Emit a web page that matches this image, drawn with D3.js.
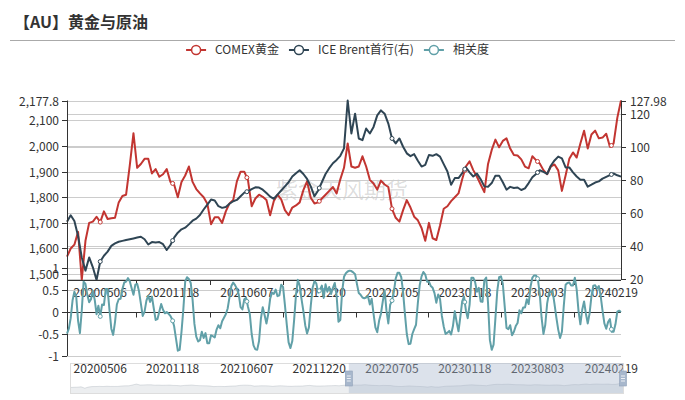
<!DOCTYPE html>
<html><head><meta charset="utf-8">
<script src="https://cdn.jsdelivr.net/npm/d3@7"></script>
<style>
body{margin:0;background:#fff}
text{font-family:"Microsoft YaHei","Noto Sans CJK SC","Noto Sans",sans-serif}
</style>
</head><body>
<svg id="c" width="685" height="400"></svg>
<script>
// ---------- data ----------
const titleText = "【AU】黄金与原油";
const watermarkText = "紫金天风期货";
const seriesNames = ["COMEX黄金", "ICE Brent首行(右)", "相关度"];
const startDate = "2020-02-06";
const stepDays = 10;      // gold & brent sampling step
const corrStepDays = 5;   // correlation sampling step

const gold = [
1568,1600,1615,1665,1477,1630,1700,1705,1724,1703,
1745,1715,1718,1720,1780,1805,1810,1925,2050,1915,
1930,1950,1950,1893,1910,1880,1890,1910,1860,1850,
1800,1860,1885,1920,1860,1832,1815,1800,1775,1695,
1722,1722,1700,1745,1776,1789,1862,1900,1900,1867,
1765,1795,1810,1802,1789,1730,1785,1810,1792,1750,
1730,1760,1768,1780,1828,1862,1798,1776,1780,1795,
1810,1825,1840,1815,1870,1915,2010,1920,1915,1920,
1960,1920,1868,1854,1830,1865,1850,1840,1755,1720,
1705,1750,1789,1760,1724,1710,1680,1630,1700,1640,
1633,1690,1755,1765,1785,1800,1815,1870,1920,1940,
1906,1880,1850,1820,1930,1985,2025,1995,2020,2030,
1990,1965,1963,1948,1920,1913,1960,1945,1932,1906,
1890,1920,1928,1905,1825,1885,1950,1975,1955,2010,
2060,1990,2045,2060,2030,2033,2048,1997,2010,2110,
2177.8];

const brent = [
54.6,58.5,55,46,33,25,33,27,19.33,30.5,
34,36.5,40,41.5,42.5,43,43.5,44,44.5,45,
45.5,44,40.8,42.3,42,42.3,41,37.5,40.5,45,
48,50,51,53,55.2,56.5,58.7,62,65,68,
67.5,64,63,63.5,65.5,67,67.8,70,72.2,73,
74.3,75.4,75.3,74,72,69.8,68.5,71,73.5,76,
78.5,82,84,85.8,83.5,80.5,76,70,73.5,78.5,
83.5,87,90,92,94.5,99,127.98,108,120,105,
104,111,108,112,119,122,120,114,105,102,
105,100,96,94.3,95.5,91.5,88,89,95,94.5,
95.5,94,89.5,85,77,81,81,84,87.5,84.5,
82,83.7,80.3,76,75.8,78,82.5,82.5,78.5,74,
75.7,75,75.3,73.8,74.8,78,81.5,83.5,85.8,84.8,
83.5,88.5,91.7,94,93,87.5,87.5,84.5,82,80,
80,75.8,77,78.3,79,80.7,81.8,82.8,83.8,82.7,
81.9];

const corr = [
-0.49,-0.38,-0.14,0.26,0.46,0.35,-0.2,-0.48,0.04,0.69,
0.64,0.39,0.22,0.29,0.48,0.28,-0.05,0.14,-0.1,0.17,
0.16,0.52,0.52,0.05,-0.38,-0.52,-0.23,0.17,0.29,0.3,
0.52,0.67,0.69,0.77,0.7,0.54,0.39,0.62,0.64,0.47,
0.19,-0.09,0.01,0.26,0.37,0.23,0.35,0.08,-0.18,-0.16,
0.01,0.18,0.05,-0.03,0,-0.04,-0.09,-0.17,-0.32,-0.6,
-0.88,-0.86,-0.45,0.06,0.69,0.79,0.75,0.66,0.28,-0.27,
-0.56,-0.67,-0.64,-0.45,-0.59,-0.48,-0.71,-0.71,-0.53,-0.55,
-0.58,-0.4,-0.3,-0.37,-0.21,-0.13,-0.05,0.08,0.34,0.59,
0.67,0.61,0.53,0.4,0.11,0.06,0.29,0.32,0.12,-0.05,
-0.5,-0.76,-0.85,-0.86,-0.66,-0.15,0.11,-0.07,-0.26,-0.04,
0.3,0.44,0.41,0.51,0.36,0.38,0.62,0.57,0.16,-0.28,
-0.69,-0.82,-0.66,-0.18,0.39,0.73,0.6,0.29,0.02,-0.3,
-0.49,-0.35,0.14,0.55,0.7,0.65,0.44,0.51,0.6,0.32,
0.63,0.46,0.57,0.41,0.55,0.66,0.37,-0.22,-0.18,0.47,
0.8,0.88,0.92,0.94,0.93,0.9,0.86,0.64,0.43,0.39,
0.33,0.31,0.33,0.36,0.17,0.3,-0.04,-0.35,-0.46,-0.2,
-0.04,0.24,0.49,0.03,-0.26,0.16,0.26,0.46,0.76,0.89,
0.89,0.79,0.45,-0.05,-0.5,-0.73,-0.72,-0.5,-0.39,-0.29,
0.21,0.61,0.81,0.91,0.85,0.69,0.69,0.59,0.55,0.43,
0.21,0.4,0.3,-0.09,-0.33,-0.5,-0.47,-0.43,-0.51,-0.32,
0.02,-0.23,-0.44,-0.11,0.24,0.35,0.04,-0.14,0.16,0.78,
0.78,0.68,0.46,0.55,0.24,0.23,0.72,0.78,0.2,-0.64,
-0.86,-0.74,-0.14,0.48,0.79,0.81,0.64,0.14,-0.36,-0.39,
-0.3,-0.53,-0.45,-0.32,-0.25,0.04,-0.03,0.1,0.1,0.29,
0.18,0.57,0.78,0.83,0.83,0.74,0.41,-0.13,-0.5,-0.29,
0.19,0.43,0.46,0.47,0.18,-0.13,-0.4,-0.59,-0.45,0.13,
0.62,0.66,0.67,0.6,0.6,0.78,0.51,0.02,-0.28,0.05,
0.24,-0.04,-0.26,-0.03,0.36,0.6,0.61,0.53,0.59,0.36,
0.03,-0.26,-0.38,-0.23,-0.16,-0.45,-0.45,-0.28,0.01,0.03,
0];

const xTickLabels = ["20200506","20201118","20210607","20211220","20220705","20230118","20230803","20240219"];
const leftTicks = [1500,1600,1700,1800,1900,2000,2100];
const rightTicks = [20,40,60,80,100,120];
const corrTicks = [-1,-0.5,0,0.5,1];
const zoomStartLabel = "20211220"; // dataZoom window start (approx.)
const colors = ["#c23531", "#2f4554", "#61a0a8"];

// ---------- layout ----------
const L = 67, R = 621, topY = 100.5, botY = 280;
const cTop = 268, cBot = 356;
const axisColor = "#333", gridColor = "#ccc", textColor = "#333";

const svg = d3.select("#c");
const parseISO = d3.utcParse("%Y-%m-%d");
const parseLbl = d3.utcParse("%Y%m%d");
const t0 = parseISO(startDate);
const dates = gold.map((_, i) => d3.utcDay.offset(t0, i * stepDays));
const corrDates = corr.map((_, i) => d3.utcDay.offset(t0, i * corrStepDays));
const lblDates = xTickLabels.map(parseLbl);

const x = d3.scaleUtc().domain([dates[0], dates[dates.length - 1]]).range([L, R]);
const yL = d3.scaleLinear().domain(d3.extent(gold)).range([botY, topY]);
const yR = d3.scaleLinear().domain(d3.extent(brent)).range([botY, topY]);
const yC = d3.scaleLinear().domain([-1, 1]).range([cBot, cTop]);

function valueAt(ds, vs, d) {
  const i = Math.max(1, Math.min(ds.length - 1, d3.bisectLeft(ds, d)));
  const a = ds[i - 1], b = ds[i];
  const t = (d - a) / (b - a);
  return vs[i - 1] + (vs[i] - vs[i - 1]) * t;
}

// ---------- title ----------
svg.append("text").attr("x", 14).attr("y", 28).attr("font-size", 16).attr("font-weight", "bold")
  .attr("fill", "#333").text(titleText);
svg.append("line").attr("x1", 10).attr("x2", 675).attr("y1", 40.5).attr("y2", 40.5)
  .attr("stroke", "#aaa").attr("stroke-width", 1);

// ---------- watermark ----------
svg.append("text").attr("x", 342).attr("y", 198).attr("text-anchor", "middle")
  .attr("font-size", 22).attr("fill", "rgba(0,0,0,0.15)").text(watermarkText);

// ---------- top grid lines ----------
const fmtL = d3.format(",");
const leftAll = [...leftTicks, d3.max(gold)];
const rightAll = [...rightTicks, d3.max(brent)];
const g = svg.append("g");
leftAll.forEach(v => g.append("line").attr("x1", L).attr("x2", R)
  .attr("y1", Math.round(yL(v)) + 0.5).attr("y2", Math.round(yL(v)) + 0.5).attr("stroke", gridColor));
rightAll.forEach(v => g.append("line").attr("x1", L).attr("x2", R)
  .attr("y1", Math.round(yR(v)) + 0.5).attr("y2", Math.round(yR(v)) + 0.5).attr("stroke", gridColor));
// lower grid lines
corrTicks.filter(v => v !== 0).forEach(v => g.append("line").attr("x1", L).attr("x2", R)
  .attr("y1", Math.round(yC(v)) + 0.5).attr("y2", Math.round(yC(v)) + 0.5).attr("stroke", gridColor));

// ---------- top lines ----------
const lineG = d3.line().x((d, i) => x(dates[i])).y(d => yL(d));
const lineB = d3.line().x((d, i) => x(dates[i])).y(d => yR(d));
svg.append("path").attr("d", lineG(gold)).attr("fill", "none").attr("stroke", colors[0])
  .attr("stroke-width", 2).attr("stroke-linejoin", "round");
svg.append("path").attr("d", lineB(brent)).attr("fill", "none").attr("stroke", colors[1])
  .attr("stroke-width", 2).attr("stroke-linejoin", "round");

// ---------- top axes ----------
const ax = svg.append("g");
ax.append("line").attr("x1", L + 0.5).attr("x2", L + 0.5).attr("y1", topY).attr("y2", botY).attr("stroke", axisColor);
ax.append("line").attr("x1", R + 0.5).attr("x2", R + 0.5).attr("y1", topY).attr("y2", botY).attr("stroke", axisColor);
leftAll.forEach(v => {
  const y = Math.round(yL(v)) + 0.5;
  ax.append("line").attr("x1", L - 5).attr("x2", L).attr("y1", y).attr("y2", y).attr("stroke", axisColor);
  ax.append("text").attr("x", L - 8).attr("y", y + 4).attr("text-anchor", "end").attr("font-size", 12)
    .attr("fill", textColor).text(fmtL(v));
});
rightAll.forEach(v => {
  const y = Math.round(yR(v)) + 0.5;
  ax.append("line").attr("x1", R).attr("x2", R + 5).attr("y1", y).attr("y2", y).attr("stroke", axisColor);
  ax.append("text").attr("x", R + 9).attr("y", y + 4).attr("text-anchor", "start").attr("font-size", 12)
    .attr("fill", textColor).text(v);
});
ax.append("line").attr("x1", L).attr("x2", R).attr("y1", botY + 0.5).attr("y2", botY + 0.5).attr("stroke", axisColor);
const lblX = lblDates.map(d => x(d));
const tickX = lblX.slice(1).map((v, i) => (v + lblX[i]) / 2);
tickX.forEach(tx => ax.append("line").attr("x1", Math.round(tx) + 0.5).attr("x2", Math.round(tx) + 0.5)
  .attr("y1", botY).attr("y2", botY + 5).attr("stroke", axisColor));
xTickLabels.forEach((t, i) => ax.append("text").attr("x", lblX[i]).attr("y", 297)
  .attr("text-anchor", "middle").attr("font-size", 12).attr("fill", textColor).text(t));

// ---------- lower axes ----------
const cz = Math.round(yC(0)) + 0.5;
ax.append("line").attr("x1", L + 0.5).attr("x2", L + 0.5).attr("y1", cTop).attr("y2", cBot).attr("stroke", axisColor);
corrTicks.forEach(v => {
  const y = Math.round(yC(v)) + 0.5;
  ax.append("line").attr("x1", L - 5).attr("x2", L).attr("y1", y).attr("y2", y).attr("stroke", axisColor);
  ax.append("text").attr("x", L - 8).attr("y", y + 4).attr("text-anchor", "end").attr("font-size", 12)
    .attr("fill", textColor).text(v);
});
ax.append("line").attr("x1", L).attr("x2", R).attr("y1", cz).attr("y2", cz).attr("stroke", axisColor);
tickX.forEach(tx => ax.append("line").attr("x1", Math.round(tx) + 0.5).attr("x2", Math.round(tx) + 0.5)
  .attr("y1", cz).attr("y2", cz + 5).attr("stroke", axisColor));
xTickLabels.forEach((t, i) => ax.append("text").attr("x", lblX[i]).attr("y", 373)
  .attr("text-anchor", "middle").attr("font-size", 12).attr("fill", textColor).text(t));

// ---------- correlation line ----------
const lineC = d3.line().x((d, i) => x(corrDates[i])).y(d => yC(d));
svg.append("path").attr("d", lineC(corr)).attr("fill", "none").attr("stroke", colors[2])
  .attr("stroke-width", 2).attr("stroke-linejoin", "round");

// ---------- symbols at label dates ----------
lblDates.forEach(d => {
  [[dates, gold, yL, colors[0]], [dates, brent, yR, colors[1]], [corrDates, corr, yC, colors[2]]]
    .forEach(([ds, vs, sc, col]) => {
      svg.append("circle").attr("cx", x(d)).attr("cy", sc(valueAt(ds, vs, d))).attr("r", 2)
        .attr("fill", "#fff").attr("stroke", col).attr("stroke-width", 1);
    });
});

// ---------- data zoom slider ----------
const zL = 70, zR = 623, zT = 363, zB = 393;
const zx = d3.scaleUtc().domain(x.domain()).range([zL, zR]);
const zy = d3.scaleLinear().domain([800, 5000]).range([zB, zT]);
const area = d3.area().x((d, i) => zx(dates[i])).y0(zB).y1(d => zy(d));
const shLine = d3.line().x((d, i) => zx(dates[i])).y(d => zy(d));
svg.append("path").attr("d", area(gold)).attr("fill", "rgba(47,69,84,0.09)");
svg.append("path").attr("d", shLine(gold)).attr("fill", "none").attr("stroke", "rgba(47,69,84,0.3)").attr("stroke-width", 0.5);
svg.append("rect").attr("x", zL + 0.5).attr("y", zT + 0.5).attr("width", zR - zL).attr("height", zB - zT)
  .attr("fill", "none").attr("stroke", "#ddd");
const zs = zx(parseLbl(zoomStartLabel)) + 27;
svg.append("rect").attr("x", zs).attr("y", zT).attr("width", zR - zs).attr("height", zB - zT)
  .attr("fill", "rgba(167,183,204,0.4)");
[zs, zR].forEach(hx => {
  svg.append("rect").attr("x", hx - 3.5).attr("y", 371).attr("width", 7).attr("height", 15)
    .attr("fill", "#a7b7cc").attr("stroke", "#8fa0b8").attr("stroke-width", 0.6);
  [376, 378.5, 381].forEach(yy => svg.append("line").attr("x1", hx - 2).attr("x2", hx + 2)
    .attr("y1", yy).attr("y2", yy).attr("stroke", "#fff").attr("stroke-width", 0.8));
});

// ---------- legend ----------
const lg = svg.append("g");
let cx = 0;
const items = [];
seriesNames.forEach((n, i) => {
  const it = lg.append("g");
  it.append("line").attr("x1", 0).attr("x2", 20).attr("y1", 0).attr("y2", 0).attr("stroke", colors[i]).attr("stroke-width", 2);
  it.append("circle").attr("cx", 10).attr("cy", 0).attr("r", 4.5).attr("fill", "#fff").attr("stroke", colors[i]).attr("stroke-width", 1.5);
  const t = it.append("text").attr("x", 29).attr("y", 4).attr("font-size", 12).attr("fill", textColor).text(n);
  const w = 29 + t.node().getComputedTextLength();
  items.push({it, w});
});
const total = d3.sum(items, d => d.w) + 10 * (items.length - 1);
let pos = 337.5 - total / 2;
items.forEach(d => { d.it.attr("transform", `translate(${pos},50)`); pos += d.w + 10; });
</script>
</body></html>
